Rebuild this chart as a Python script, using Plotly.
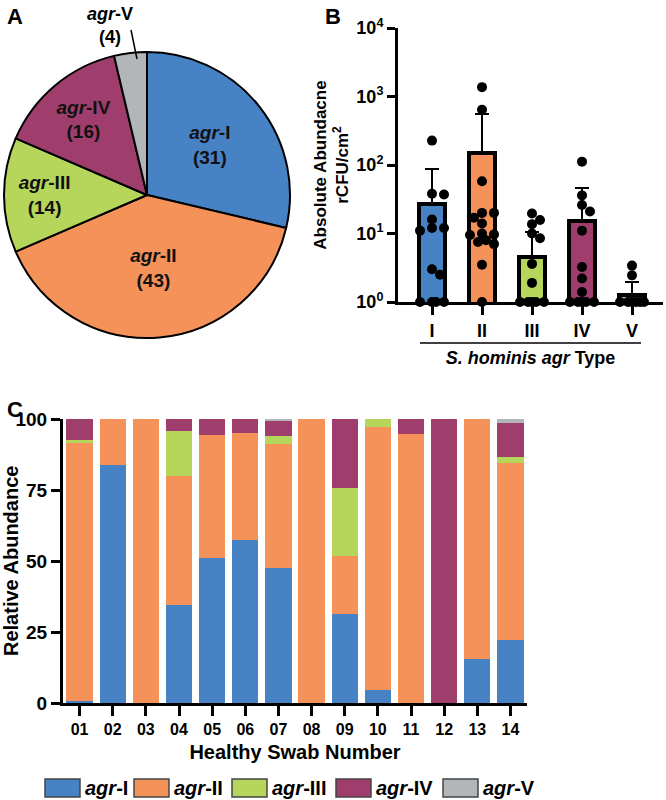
import numpy as np
import plotly.graph_objects as go

# DATA

agr_types = ["I", "II", "III", "IV", "V"]
colors = ["#4682C4", "#F4925A", "#B6D65B", "#9F3E6C", "#B3B6B9"]

# A: isolate counts per agr type
isolate_counts = [31, 43, 14, 16, 4]

# B: absolute abundance (rCFU/cm2), mean + upper SD, and single swabs
abund_mean = [27, 150, 4.5, 15, 1.27]
abund_upper = [87, 550, 10.5, 46, 1.95]
pts_I = [227, 38, 37, 16, 12, 12, 11, 3.0, 2.5, 1, 1, 1, 1]
pts_II = [1370, 640, 58, 20, 20, 17, 14, 10, 9.7, 9.5, 8, 7.5, 7, 3.5, 1]
pts_III = [19.6, 15.7, 13.7, 10, 8.5, 3.6, 1.9, 1, 1, 1, 1, 1]
pts_IV = [112, 36, 26, 21, 11, 3.25, 2.2, 1.4, 1, 1, 1, 1, 1]
pts_V = [3.4, 2.45, 1, 1, 1, 1, 1, 1]

# C: relative abundance per healthy swab (%)
swabs = ["01", "02", "03", "04", "05", "06", "07", "08", "09", "10", "11", "12", "13", "14"]
rel_I = [0.6, 83.7, 0, 34.4, 50.9, 57.3, 47.7, 0, 31.3, 4.5, 0, 0, 15.4, 22.1]
rel_II = [90.9, 16.3, 100, 45.5, 43.5, 37.7, 43.5, 100, 20.6, 92.7, 94.8, 0, 84.6, 62.5]
rel_III = [1.0, 0, 0, 15.8, 0, 0, 2.9, 0, 23.7, 2.8, 0, 0, 0, 2.1]
rel_IV = [7.5, 0, 0, 4.3, 5.6, 5.0, 5.3, 0, 24.4, 0, 5.2, 100, 0, 11.9]
rel_V = [0, 0, 0, 0, 0, 0, 0.6, 0, 0, 0, 0, 0, 0, 1.4]

W, H = 666, 800
FONT = "Liberation Sans, Arial, sans-serif"


def fx(x):
    return x / W


def fy(y):
    return 1 - y / H


def swarm(values, px_per_decade=68.5, px_per_unit=50, diam=8.5, step=0.08, maxoff=0.28):
    # simple beeswarm kept inside the bar: nearest free offset, else least crowded one
    placed = []
    offsets = []
    cands = [0.0]
    k = 1
    while k * step <= maxoff + 1e-9:
        cands += [k * step, -k * step]
        k += 1
    for v in values:
        yp = np.log10(v) * px_per_decade
        best, best_d = None, -1
        for c in cands:
            xp = c * px_per_unit
            d = min([np.hypot(xp - a, yp - b) for a, b in placed] or [1e9])
            if d >= diam:
                best = c
                break
            if d > best_d:
                best, best_d = c, d
        placed.append((best * px_per_unit, yp))
        offsets.append(best)
    return offsets


fig = go.Figure()

# A: pie
fig.add_trace(go.Pie(
    labels=agr_types,
    values=isolate_counts,
    text=[f"<b><i>agr</i>-{t}<br>({n})</b>" for t, n in zip(agr_types, isolate_counts)],
    textinfo="text",
    textposition=["inside"] * 4 + ["none"],
    insidetextorientation="horizontal",
    textfont=dict(family=FONT, size=19, color="#111"),
    marker=dict(colors=colors, line=dict(color="black", width=2)),
    sort=False,
    direction="clockwise",
    rotation=0,
    domain=dict(x=[fx(4), fx(290)], y=[fy(338), fy(52)]),
    showlegend=False,
    hoverinfo="label+value",
))

# B: bars with error and dots
fig.add_trace(go.Bar(
    x=list(range(5)),
    y=abund_mean,
    width=0.52,
    marker=dict(color=colors, line=dict(color="black", width=4)),
    error_y=dict(type="data", symmetric=False,
                 array=[u - m for u, m in zip(abund_upper, abund_mean)],
                 arrayminus=[0] * 5, color="black", thickness=2, width=7),
    xaxis="x", yaxis="y", showlegend=False,
))
for i, pts in enumerate([pts_I, pts_II, pts_III, pts_IV, pts_V]):
    offs = swarm(pts)
    fig.add_trace(go.Scatter(
        x=[i + o for o in offs], y=pts, mode="markers",
        marker=dict(color="black", size=10),
        cliponaxis=False, xaxis="x", yaxis="y", showlegend=False,
    ))

# C: stacked bars
for name, vals, col in zip(agr_types, [rel_I, rel_II, rel_III, rel_IV, rel_V], colors):
    fig.add_trace(go.Bar(
        x=swabs, y=vals, name=f"agr-{name}", marker=dict(color=col, line=dict(width=0)),
        width=0.79, xaxis="x2", yaxis="y2", showlegend=False,
    ))

axis_common = dict(showline=True, linecolor="black", linewidth=3, ticks="outside",
                   tickcolor="black", tickwidth=3, showgrid=False, zeroline=False,
                   automargin=False,
                   tickfont=dict(family=FONT, size=17, color="black"))

fig.update_layout(
    width=W, height=H,
    margin=dict(l=0, r=0, t=0, b=0, pad=0, autoexpand=False),
    paper_bgcolor="white", plot_bgcolor="white",
    font=dict(family=FONT, color="black"),
    barmode="stack",
    uniformtext=dict(minsize=19, mode="show"),
    xaxis=dict(axis_common, domain=[fx(398), fx(663)], range=[-0.68, 4.62],
               tickvals=list(range(5)), ticktext=[f"<b>{t}</b>" for t in agr_types],
               ticklen=10, anchor="y",
               tickfont=dict(family=FONT, size=18, color="black"),
               title=dict(text="<b><i>S. hominis agr</i> Type</b>", standoff=12,
                          font=dict(family=FONT, size=18))),
    yaxis=dict(axis_common, domain=[fy(302), fy(28)], type="log", range=[0, 4],
               tickvals=[1, 10, 100, 1000, 10000],
               ticktext=[f"<b>10<sup>{k}</sup></b>" for k in range(5)],
               ticklen=8, anchor="x",
               tickfont=dict(family=FONT, size=18, color="black"),
               title=dict(text="<b>Absolute Abundacne<br>rCFU/cm<sup>2</sup></b>", standoff=4,
                          font=dict(family=FONT, size=17))),
    xaxis2=dict(axis_common, domain=[fx(63), fx(527)], range=[-0.5, 13.5],
                type="category", ticklen=10, anchor="y2",
                tickvals=swabs, ticktext=[f"<b>{s}</b>" for s in swabs],
                tickfont=dict(family=FONT, size=16, color="black"),
                title=dict(text="<b>Healthy Swab Number</b>", standoff=8,
                           font=dict(family=FONT, size=20))),
    yaxis2=dict(axis_common, domain=[fy(703), fy(419)], range=[0, 100],
                tickvals=[0, 25, 50, 75, 100], ticktext=[f"<b>{v}</b>" for v in [0, 25, 50, 75, 100]],
                ticklen=9, anchor="x2",
                tickfont=dict(family=FONT, size=19, color="black")),
)

annotations = [
    dict(text="<b>A</b>", x=fx(15), y=fy(16), font=dict(size=22)),
    dict(text="<b>B</b>", x=fx(333), y=fy(16), font=dict(size=22)),
    dict(text="<b>C</b>", x=fx(15), y=fy(409), font=dict(size=22)),
    dict(text="<b><i>agr</i>-V<br>(4)</b>", x=fx(110), y=fy(26), font=dict(size=18)),
    dict(text="<b>Relative Abundance</b>", x=fx(11), y=fy(561), textangle=-90,
         font=dict(size=20)),
]

# B underline under tick labels, agr-V pointer
shapes = [
    dict(type="line", xref="paper", yref="paper", x0=fx(420), x1=fx(641), y0=fy(343), y1=fy(343),
         line=dict(color="black", width=1.5)),
    dict(type="line", xref="paper", yref="paper", x0=fx(131), x1=fx(137), y0=fy(30), y1=fy(59),
         line=dict(color="black", width=1.5)),
]

# C legend drawn as boxes + labels
legend_x = [45, 134, 232, 336, 443]
for x0, col, t in zip(legend_x, colors, agr_types):
    shapes.append(dict(type="rect", xref="paper", yref="paper",
                       x0=fx(x0), x1=fx(x0 + 35), y0=fy(797), y1=fy(779),
                       fillcolor=col, line=dict(color="#444", width=1.5)))
    annotations.append(dict(text=f"<b><i>agr</i>-{t}</b>", x=fx(x0 + 38), y=fy(788),
                            xanchor="left", font=dict(size=20)))

for a in annotations:
    a.setdefault("xref", "paper")
    a.setdefault("yref", "paper")
    a.setdefault("xanchor", "center")
    a.setdefault("yanchor", "middle")
    a.setdefault("showarrow", False)
    a["font"].setdefault("family", FONT)
    a["font"].setdefault("color", "black")

fig.update_layout(annotations=annotations, shapes=shapes)

# drop the default page margin so the figure fills the window exactly
fig.write_html("out.html", config={"displayModeBar": False},
               post_script="document.body.style.margin='0px';")
